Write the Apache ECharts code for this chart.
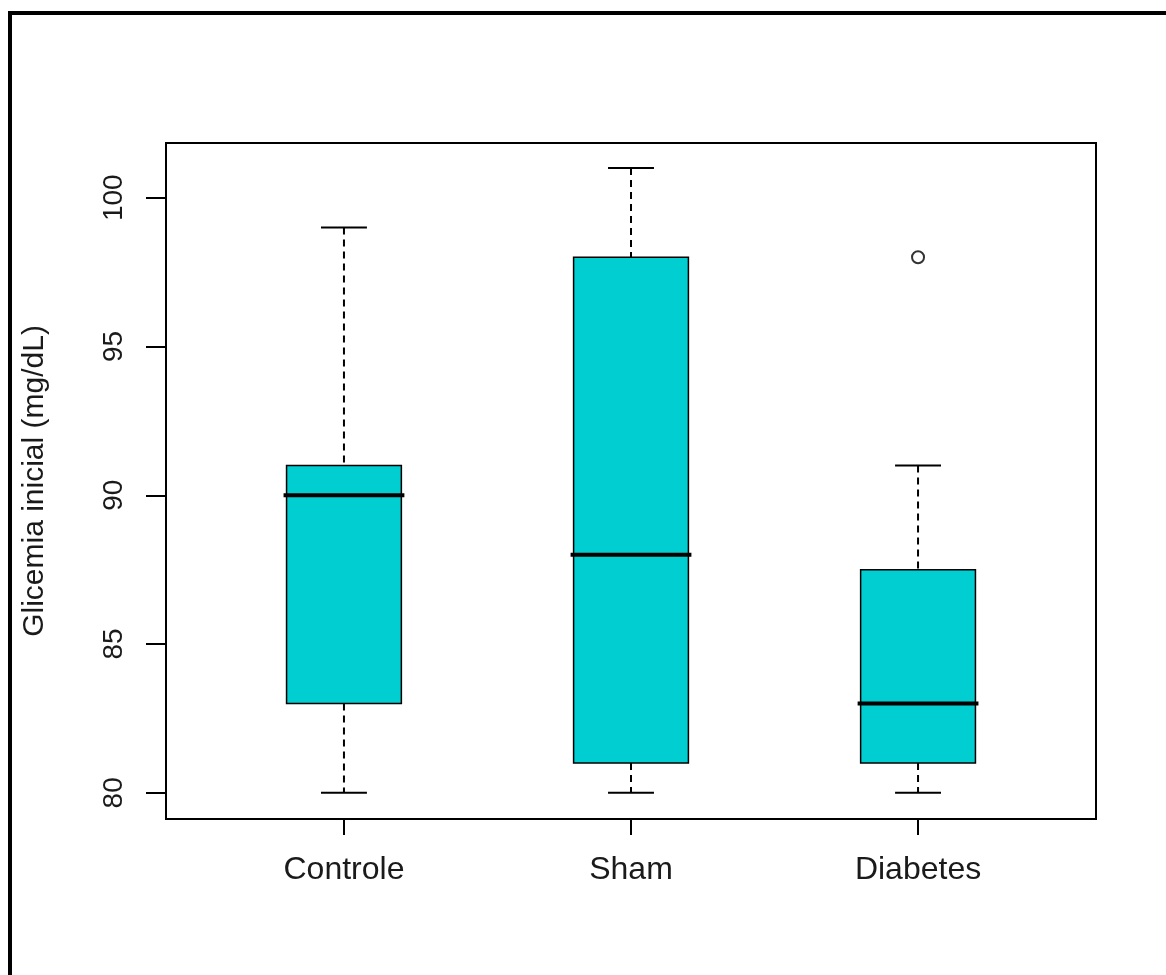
<!DOCTYPE html>
<html><head><meta charset="utf-8">
<script src="https://cdn.jsdelivr.net/npm/echarts@6/dist/echarts.min.js"></script>
<style>html,body{margin:0;padding:0;background:#fff}#c{width:1166px;height:975px}</style>
</head><body><div id="c"></div>
<script>
// ---- data ----
const categories = ['Controle', 'Sham', 'Diabetes'];
const whiskerLow = [80, 80, 80];
const q1 = [83, 81, 81];
const median = [90, 88, 83];
const q3 = [91, 98, 87.5];
const whiskerHigh = [99, 101, 91];
const outlierCategory = ['Diabetes'];
const outlierValue = [98];
const yTicks = [80, 85, 90, 95, 100];
const yTitle = 'Glicemia inicial (mg/dL)';

// ---- chart ----
const FONT = '"Liberation Sans", Arial, sans-serif';
const xPos = categories.map((c, i) => i + 1);
const boxData = categories.map((c, i) => [xPos[i], whiskerLow[i], q1[i], median[i], q3[i], whiskerHigh[i]]);
const outlierData = outlierCategory.map((c, i) => [categories.indexOf(c) + 1, outlierValue[i]]);

const BOX_HALF = 0.2, CAP_HALF = 0.08;

const chart = echarts.init(document.getElementById('c'), null, {renderer: 'canvas'});
chart.setOption({
  animation: false,
  backgroundColor: '#ffffff',
  grid: {left: 166, top: 143, width: 930, height: 676, show: true, borderColor: '#000', borderWidth: 2, backgroundColor: 'transparent'},
  xAxis: {
    type: 'value', min: 0.38, max: 3.62,
    splitLine: {show: false},
    axisLine: {show: false},
    axisTick: {show: true, customValues: xPos, length: 16, lineStyle: {color: '#000', width: 2}},
    axisLabel: {customValues: xPos, formatter: v => categories[Math.round(v) - 1], fontSize: 32, color: '#1a1a1a', fontFamily: FONT, margin: 35}
  },
  yAxis: {
    type: 'value', min: 79.12, max: 101.84,
    splitLine: {show: false},
    axisLine: {show: false},
    axisTick: {show: true, customValues: yTicks, length: 20, lineStyle: {color: '#000', width: 2}},
    axisLabel: {customValues: yTicks, rotate: 90, fontSize: 28, color: '#1a1a1a', fontFamily: FONT, margin: 38},
    name: yTitle, nameLocation: 'middle', nameRotate: 90, nameGap: 116,
    nameTextStyle: {fontSize: 30, color: '#1a1a1a', fontFamily: FONT}
  },
  graphic: [{
    type: 'rect', silent: true, z: 100,
    shape: {x: 10, y: 13, width: 1400, height: 1200},
    style: {fill: 'none', stroke: '#000', lineWidth: 4}
  }],
  series: [{
    type: 'custom',
    data: boxData,
    encode: {x: 0, y: [1, 2, 3, 4, 5]},
    renderItem: function (params, api) {
      const x = api.value(0);
      const pLo = api.coord([x, api.value(1)]);
      const pA = api.coord([x, api.value(2)]);
      const pM = api.coord([x, api.value(3)]);
      const pB = api.coord([x, api.value(4)]);
      const pHi = api.coord([x, api.value(5)]);
      const hw = api.size([BOX_HALF, 0])[0];
      const cw = api.size([CAP_HALF, 0])[0];
      const cx = pLo[0];
      const dashed = {stroke: '#000', lineWidth: 2, lineDash: [7, 5]};
      const solid = {stroke: '#000', lineWidth: 2};
      return {
        type: 'group',
        children: [
          {type: 'line', shape: {x1: cx, y1: pHi[1], x2: cx, y2: pB[1]}, style: dashed},
          {type: 'line', shape: {x1: cx, y1: pA[1], x2: cx, y2: pLo[1]}, style: dashed},
          {type: 'line', shape: {x1: cx - cw, y1: pHi[1], x2: cx + cw, y2: pHi[1]}, style: solid},
          {type: 'line', shape: {x1: cx - cw, y1: pLo[1], x2: cx + cw, y2: pLo[1]}, style: solid},
          {type: 'rect', shape: {x: cx - hw, y: pB[1], width: 2 * hw, height: pA[1] - pB[1]}, style: {fill: '#00CED1', stroke: '#000', lineWidth: 1.5}},
          {type: 'line', shape: {x1: cx - hw - 3, y1: pM[1], x2: cx + hw + 3, y2: pM[1]}, style: {stroke: '#000', lineWidth: 4}}
        ]
      };
    }
  }, {
    type: 'scatter',
    data: outlierData,
    symbol: 'circle', symbolSize: 12,
    itemStyle: {color: '#fff', borderColor: '#000', borderWidth: 2}
  }]
});
</script>
</body></html>
